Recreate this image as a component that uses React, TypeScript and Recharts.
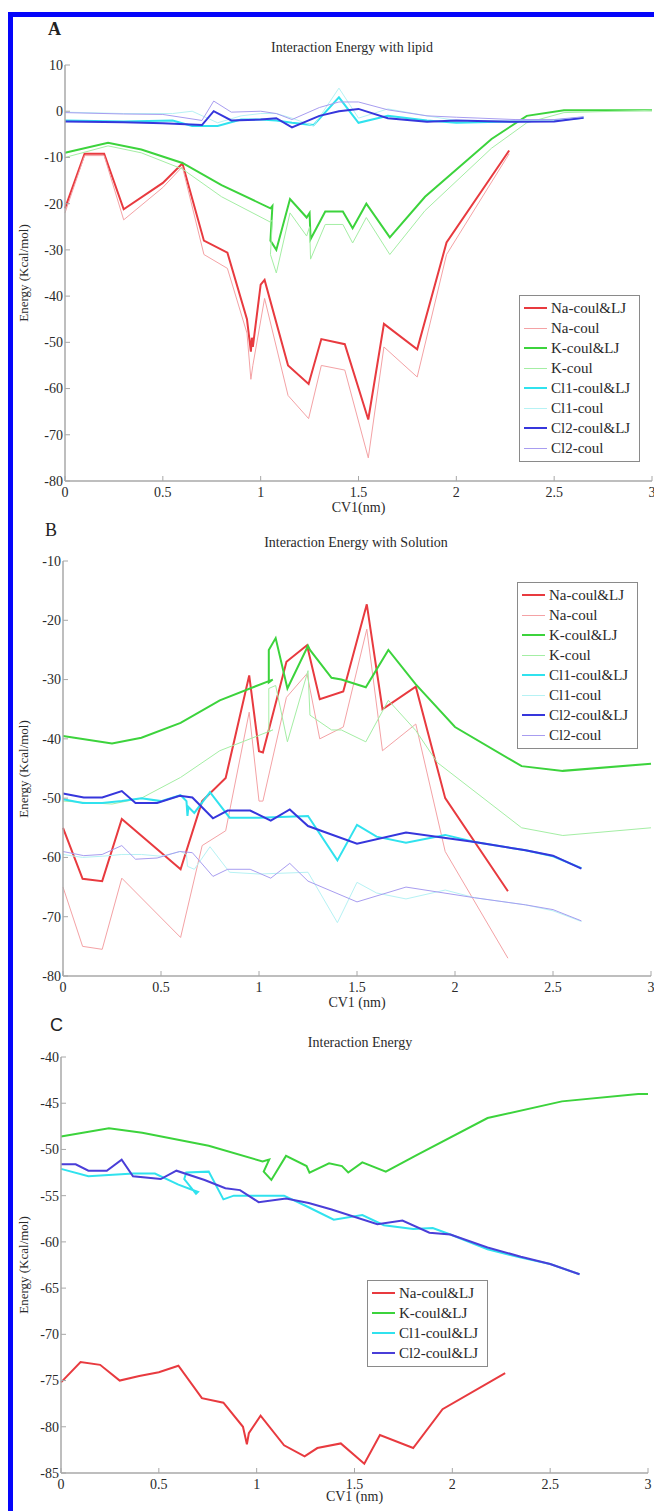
import { LineChart, Line, XAxis, YAxis } from "recharts";

type Pt = [number, number];

// ---- A: interaction energy with lipid ----
const lipidNaTotal: Pt[] = [
  [0, -21], [0.1, -9.2], [0.2, -9.2], [0.3, -21.2], [0.5, -15.5], [0.6, -11.3],
  [0.71, -28], [0.83, -30.6], [0.93, -45], [0.95, -52], [0.955, -49], [0.96, -51],
  [1.0, -37.5], [1.02, -36.5], [1.14, -55], [1.245, -59], [1.31, -49.3], [1.43, -50.4],
  [1.55, -66.7], [1.63, -46], [1.8, -51.5], [1.95, -28.4], [2.27, -8.5],
];
const lipidNaCoul: Pt[] = [
  [0, -22], [0.1, -9.6], [0.2, -9.6], [0.3, -23.5], [0.5, -16.5], [0.6, -12],
  [0.71, -31], [0.83, -34], [0.93, -48], [0.95, -58], [0.96, -55], [1.02, -40.5],
  [1.14, -61.5], [1.245, -66.5], [1.31, -55], [1.43, -56], [1.55, -75], [1.63, -51],
  [1.8, -57.5], [1.95, -31], [2.27, -9.2],
];
const lipidKTotal: Pt[] = [
  [0, -9], [0.22, -6.8], [0.39, -8.3], [0.6, -11.2], [0.8, -16], [1.05, -21], [1.06, -20.5],
  [1.05, -28], [1.08, -30], [1.15, -19], [1.235, -23], [1.25, -22], [1.255, -27.7],
  [1.33, -21.7], [1.42, -21.7], [1.47, -25.3], [1.54, -20], [1.66, -27.3], [1.84, -18.5],
  [2.18, -6], [2.36, -1], [2.55, 0.2], [3, 0.2],
];
const lipidKCoul: Pt[] = [
  [0, -10], [0.22, -7.5], [0.39, -9], [0.6, -12.5], [0.8, -18.5], [1.05, -24], [1.06, -23.5],
  [1.05, -31], [1.08, -35], [1.15, -22], [1.235, -27], [1.25, -25], [1.255, -32],
  [1.33, -24.5], [1.42, -24.5], [1.47, -28.5], [1.54, -23], [1.66, -31], [1.84, -21.5],
  [2.18, -8], [2.36, -2.5], [2.55, -0.3], [3, 0.2],
];
const lipidCl1Total: Pt[] = [
  [0, -2], [0.3, -2.2], [0.55, -2], [0.65, -3.2], [0.78, -3.2], [0.9, -1.8], [1.0, -1.8],
  [1.08, -2], [1.16, -2.5], [1.27, -3], [1.4, 3], [1.5, -2.5], [1.65, -1], [1.85, -2],
  [2.0, -2.5], [2.3, -2.2], [2.5, -2], [2.65, -1.4],
];
const lipidCl1Coul: Pt[] = [
  [0, -0.2], [0.3, -0.5], [0.55, -0.5], [0.65, 0], [0.78, -2.5], [0.9, -1], [1.0, -0.5],
  [1.08, -0.5], [1.16, -1.5], [1.27, -3.2], [1.4, 5], [1.5, -1.5], [1.65, 0.5], [1.85, -1],
  [2.0, -2], [2.3, -2], [2.5, -2], [2.65, -1.2],
];
const lipidCl2Total: Pt[] = [
  [0, -2.2], [0.3, -2.4], [0.5, -2.6], [0.7, -3], [0.76, 0], [0.85, -2], [1.0, -1.8],
  [1.08, -1.5], [1.16, -3.5], [1.3, -1], [1.4, 0], [1.5, 0.5], [1.65, -1.5], [1.85, -2.3],
  [2.0, -2], [2.3, -2.3], [2.5, -2.2], [2.65, -1.4],
];
const lipidCl2Coul: Pt[] = [
  [0, -0.3], [0.3, -0.6], [0.5, -0.7], [0.7, -2], [0.76, 2.2], [0.85, -0.2], [1.0, 0],
  [1.08, -0.5], [1.16, -1.8], [1.3, 0.8], [1.4, 2], [1.5, 2], [1.65, 0.3], [1.85, -1],
  [2.0, -1.3], [2.3, -1.8], [2.5, -1.8], [2.65, -1.2],
];

// ---- B: interaction energy with solution ----
const solNaTotal: Pt[] = [
  [0, -55], [0.1, -63.6], [0.2, -64], [0.3, -53.5], [0.6, -62], [0.71, -50.5], [0.83, -46.6],
  [0.95, -29.3], [1.0, -42.1], [1.02, -42.3], [1.14, -27], [1.245, -24.2], [1.31, -33.3],
  [1.43, -32], [1.55, -17.3], [1.63, -35], [1.8, -31.2], [1.95, -50], [2.27, -65.7],
];
const solNaCoul: Pt[] = [
  [0, -65], [0.1, -75], [0.2, -75.5], [0.3, -63.5], [0.6, -73.5], [0.71, -58], [0.83, -55.5],
  [0.95, -35.5], [1.0, -50.5], [1.02, -50.5], [1.14, -33], [1.245, -29], [1.31, -40],
  [1.43, -38], [1.55, -21.5], [1.63, -42], [1.8, -37.5], [1.95, -59], [2.27, -77],
];
const solKTotal: Pt[] = [
  [0, -39.5], [0.25, -40.8], [0.4, -39.8], [0.6, -37.3], [0.8, -33.5], [1.07, -30], [1.05, -30.5],
  [1.05, -25], [1.085, -23], [1.145, -31.5], [1.25, -24.3], [1.26, -25], [1.37, -29.7],
  [1.42, -30], [1.545, -31.3], [1.66, -25], [1.8, -30.8], [2.0, -38], [2.34, -44.6],
  [2.55, -45.4], [3, -44.2],
];
const solKCoul: Pt[] = [
  [0, -50.5], [0.25, -51], [0.4, -50], [0.6, -46.5], [0.8, -42], [1.07, -38.5], [1.05, -38.8],
  [1.05, -31.5], [1.085, -31], [1.145, -40.5], [1.25, -28.5], [1.26, -36], [1.37, -38.5],
  [1.42, -38.5], [1.545, -40.5], [1.66, -33.5], [1.8, -38.6], [1.91, -44], [2.34, -55],
  [2.55, -56.3], [3, -55],
];
const solCl1Total: Pt[] = [
  [0, -50.2], [0.1, -50.8], [0.2, -50.8], [0.3, -50.5], [0.4, -50], [0.5, -50.5], [0.6, -49.5],
  [0.63, -50.5], [0.635, -53], [0.64, -51.5], [0.67, -52.5], [0.75, -49], [0.85, -53.3],
  [1.0, -53.3], [1.25, -53], [1.4, -60.5], [1.5, -54.5], [1.6, -56.5], [1.75, -57.5],
  [1.95, -56.2], [2.1, -57.4], [2.36, -58.8], [2.5, -59.8], [2.645, -61.8],
];
const solCl1Coul: Pt[] = [
  [0, -59.5], [0.1, -60], [0.2, -59.8], [0.3, -59.5], [0.4, -59.5], [0.5, -59.8], [0.6, -59],
  [0.63, -59.5], [0.635, -61.5], [0.67, -62], [0.75, -58.2], [0.85, -62.5], [1.0, -62.8],
  [1.25, -62.5], [1.4, -71], [1.5, -64.2], [1.6, -66], [1.75, -67], [1.95, -65.5], [2.1, -66.8],
  [2.36, -68], [2.5, -69], [2.645, -70.8],
];
const solCl2Total: Pt[] = [
  [0, -49.2], [0.106, -49.9], [0.2, -49.9], [0.3, -48.8], [0.37, -50.8], [0.48, -50.8],
  [0.595, -49.6], [0.66, -49.9], [0.765, -53.4], [0.84, -52.1], [0.955, -52.1], [1.06, -53.8],
  [1.157, -51.9], [1.25, -54.7], [1.5, -57.7], [1.75, -55.8], [2.1, -57.4], [2.36, -58.8],
  [2.5, -59.7], [2.645, -61.9],
];
const solCl2Coul: Pt[] = [
  [0, -59], [0.106, -59.7], [0.2, -59.5], [0.3, -58], [0.37, -60.3], [0.48, -60.1],
  [0.595, -59], [0.66, -59.2], [0.765, -63.2], [0.84, -62], [0.955, -62], [1.06, -63.5],
  [1.157, -61], [1.25, -64], [1.5, -67.5], [1.75, -65], [2.1, -66.8], [2.36, -68],
  [2.5, -68.8], [2.645, -70.7],
];

// ---- C: total interaction energy ----
const totNa: Pt[] = [
  [0, -75.2], [0.1, -73], [0.2, -73.3], [0.3, -75], [0.4, -74.5], [0.5, -74.1], [0.6, -73.4],
  [0.72, -76.9], [0.83, -77.4], [0.93, -80], [0.95, -81.9], [0.96, -80.7], [1.02, -78.8],
  [1.14, -82], [1.245, -83.2], [1.31, -82.3], [1.43, -81.8], [1.55, -84], [1.63, -80.9],
  [1.8, -82.3], [1.95, -78.1], [2.27, -74.2],
];
const totK: Pt[] = [
  [0, -48.6], [0.245, -47.7], [0.415, -48.2], [0.755, -49.6], [1.03, -51.3], [1.064, -51.1],
  [1.036, -52.4], [1.075, -53.3], [1.15, -50.7], [1.255, -51.8], [1.27, -52.5], [1.37, -51.5],
  [1.436, -51.8], [1.468, -52.5], [1.54, -51.4], [1.66, -52.4], [1.82, -50.6], [2.18, -46.6],
  [2.56, -44.8], [2.95, -44], [3, -44],
];
const totCl1: Pt[] = [
  [0, -52.1], [0.14, -52.9], [0.37, -52.6], [0.48, -52.6], [0.6, -53.8], [0.7, -54.6],
  [0.69, -54.8], [0.63, -53.2], [0.64, -52.5], [0.755, -52.4], [0.83, -55.4], [0.883, -55],
  [1.14, -55], [1.26, -56.2], [1.394, -57.6], [1.54, -57.1], [1.65, -58.2], [1.8, -58.6],
  [1.9, -58.5], [1.99, -59.2], [2.18, -60.8], [2.35, -61.7], [2.5, -62.4], [2.65, -63.5],
];
const totCl2: Pt[] = [
  [0, -51.6], [0.075, -51.6], [0.14, -52.3], [0.234, -52.3], [0.31, -51.1], [0.368, -52.9],
  [0.51, -53.2], [0.59, -52.3], [0.734, -53.3], [0.84, -54.2], [0.915, -54.4], [1.01, -55.7],
  [1.15, -55.3], [1.266, -55.8], [1.383, -56.5], [1.617, -58.1], [1.745, -57.7], [1.883, -59],
  [1.99, -59.2], [2.18, -60.6], [2.35, -61.6], [2.5, -62.4], [2.65, -63.5],
];

const xTicks = [0, 0.5, 1, 1.5, 2, 2.5, 3];
const lipidYTicks = [10, 0, -10, -20, -30, -40, -50, -60, -70, -80];
const solYTicks = [-10, -20, -30, -40, -50, -60, -70, -80];
const totYTicks = [-40, -45, -50, -55, -60, -65, -70, -75, -80, -85];

const SERIF = "'Liberation Serif', 'Times New Roman', serif";
const AXIS = "#a8a8a8";
const INK = "#2a2a2a";

const look = {
  naTotal: { color: "#e83a3f", width: 2 },
  naCoul: { color: "#f4a2a5", width: 1 },
  kTotal: { color: "#3cd33c", width: 2 },
  kCoul: { color: "#a4eea4", width: 1 },
  cl1Total: { color: "#30e2ee", width: 2 },
  cl1Coul: { color: "#b6f2f4", width: 1 },
  cl2Total: { color: "#3636dc", width: 2 },
  cl2Coul: { color: "#a89df0", width: 1 },
};

interface Series {
  name: string;
  points: Pt[];
  color: string;
  width: number;
}

const lipidSeries: Series[] = [
  { name: "Na-coul&LJ", points: lipidNaTotal, ...look.naTotal },
  { name: "Na-coul", points: lipidNaCoul, ...look.naCoul },
  { name: "K-coul&LJ", points: lipidKTotal, ...look.kTotal },
  { name: "K-coul", points: lipidKCoul, ...look.kCoul },
  { name: "Cl1-coul&LJ", points: lipidCl1Total, ...look.cl1Total },
  { name: "Cl1-coul", points: lipidCl1Coul, ...look.cl1Coul },
  { name: "Cl2-coul&LJ", points: lipidCl2Total, ...look.cl2Total },
  { name: "Cl2-coul", points: lipidCl2Coul, ...look.cl2Coul },
];

const solSeries: Series[] = [
  { name: "Na-coul&LJ", points: solNaTotal, ...look.naTotal },
  { name: "Na-coul", points: solNaCoul, ...look.naCoul },
  { name: "K-coul&LJ", points: solKTotal, ...look.kTotal },
  { name: "K-coul", points: solKCoul, ...look.kCoul },
  { name: "Cl1-coul&LJ", points: solCl1Total, ...look.cl1Total },
  { name: "Cl1-coul", points: solCl1Coul, ...look.cl1Coul },
  { name: "Cl2-coul&LJ", points: solCl2Total, ...look.cl2Total },
  { name: "Cl2-coul", points: solCl2Coul, ...look.cl2Coul },
];

const totSeries: Series[] = [
  { name: "Na-coul&LJ", points: totNa, ...look.naTotal },
  { name: "K-coul&LJ", points: totK, ...look.kTotal },
  { name: "Cl1-coul&LJ", points: totCl1, ...look.cl1Total },
  { name: "Cl2-coul&LJ", points: totCl2, color: "#4a3ed8", width: 2 },
];

const toRows = (pts: Pt[]) => pts.map(([x, y]) => ({ x, y }));

// matlab-style inward ticks
function BottomTick({ x, y, payload }: any) {
  return (
    <g>
      <line x1={x} y1={y} x2={x} y2={y - 5} stroke={AXIS} />
      <text x={x} y={y + 16} textAnchor="middle" fontSize={14} fontFamily={SERIF} fill={INK}>
        {payload.value}
      </text>
    </g>
  );
}
function TopTick({ x, y }: any) {
  return <line x1={x} y1={y} x2={x} y2={y + 5} stroke={AXIS} />;
}
function LeftTick({ x, y, payload }: any) {
  return (
    <g>
      <line x1={x} y1={y} x2={x + 5} y2={y} stroke={AXIS} />
      <text x={x - 2} y={y} dy="0.35em" textAnchor="end" fontSize={14} fontFamily={SERIF} fill={INK}>
        {payload.value}
      </text>
    </g>
  );
}
function RightTick({ x, y }: any) {
  return <line x1={x} y1={y} x2={x - 5} y2={y} stroke={AXIS} />;
}

interface Box {
  left: number;
  top: number;
  width: number;
}

interface PanelProps {
  letter: string;
  letterFont: string;
  letterWeight: number;
  letterAt: [number, number];
  title: string;
  titleAt: [number, number];
  xLabel: string;
  xLabelY: number;
  plot: { left: number; top: number; right: number; bottom: number };
  yDomain: [number, number];
  yTicks: number[];
  series: Series[];
  legend: Box;
}

const W = 654;
const Y_AXIS_W = 50;
const X_AXIS_H = 30;

function Panel(p: PanelProps) {
  const chartTop = p.plot.top - 10;
  const chartH = p.plot.bottom - chartTop + X_AXIS_H + 4;
  const mid = (p.plot.top + p.plot.bottom) / 2;
  return (
    <>
      <div
        style={{
          position: "absolute",
          left: p.letterAt[0],
          top: p.letterAt[1],
          transform: "translateY(-50%)",
          fontFamily: p.letterFont,
          fontWeight: p.letterWeight,
          fontSize: 18,
          color: "#222",
        }}
      >
        {p.letter}
      </div>
      <div
        style={{
          position: "absolute",
          left: p.titleAt[0],
          top: p.titleAt[1],
          transform: "translate(-50%, -50%)",
          fontFamily: SERIF,
          fontSize: 14,
          color: INK,
          whiteSpace: "nowrap",
        }}
      >
        {p.title}
      </div>
      <div
        style={{
          position: "absolute",
          left: 24,
          top: mid,
          transform: "translate(-50%, -50%) rotate(-90deg)",
          fontFamily: SERIF,
          fontSize: 13,
          color: INK,
          whiteSpace: "nowrap",
        }}
      >
        Energy (Kcal/mol)
      </div>
      <div
        style={{
          position: "absolute",
          left: (p.plot.left + p.plot.right) / 2,
          top: p.xLabelY,
          transform: "translate(-50%, -50%)",
          fontFamily: SERIF,
          fontSize: 14,
          color: INK,
          whiteSpace: "nowrap",
        }}
      >
        {p.xLabel}
      </div>
      <div style={{ position: "absolute", left: 0, top: chartTop }}>
        <LineChart
          width={W}
          height={chartH}
          margin={{
            top: p.plot.top - chartTop,
            right: W - p.plot.right,
            bottom: chartTop + chartH - p.plot.bottom - X_AXIS_H,
            left: p.plot.left - Y_AXIS_W,
          }}
        >
          <XAxis
            xAxisId="b"
            type="number"
            dataKey="x"
            domain={[0, 3]}
            ticks={xTicks}
            height={X_AXIS_H}
            tickSize={0}
            tickMargin={0}
            tickLine={false}
            axisLine={{ stroke: AXIS, strokeWidth: 1.5 }}
            tick={<BottomTick />}
            interval={0}
          />
          <XAxis
            xAxisId="t"
            orientation="top"
            type="number"
            dataKey="x"
            domain={[0, 3]}
            ticks={xTicks}
            height={0}
            tickSize={0}
            tickMargin={0}
            tickLine={false}
            axisLine={{ stroke: AXIS, strokeWidth: 1.5 }}
            tick={<TopTick />}
            interval={0}
          />
          <YAxis
            yAxisId="l"
            type="number"
            domain={p.yDomain}
            ticks={p.yTicks}
            width={Y_AXIS_W}
            tickSize={0}
            tickMargin={0}
            tickLine={false}
            axisLine={{ stroke: AXIS, strokeWidth: 1.5 }}
            tick={<LeftTick />}
            interval={0}
          />
          <YAxis
            yAxisId="r"
            orientation="right"
            type="number"
            domain={p.yDomain}
            ticks={p.yTicks}
            width={0}
            tickSize={0}
            tickMargin={0}
            tickLine={false}
            axisLine={{ stroke: AXIS, strokeWidth: 1.5 }}
            tick={<RightTick />}
            interval={0}
          />
          {p.series.map((s) => (
            <Line
              key={s.name}
              xAxisId="b"
              yAxisId="l"
              data={toRows(s.points)}
              dataKey="y"
              name={s.name}
              type="linear"
              stroke={s.color}
              strokeWidth={s.width}
              dot={false}
              activeDot={false}
              isAnimationActive={false}
            />
          ))}
        </LineChart>
      </div>
      <div
        style={{
          position: "absolute",
          left: p.legend.left,
          top: p.legend.top,
          width: p.legend.width,
          boxSizing: "border-box",
          border: "1px solid #8a8a8a",
          background: "#fff",
          padding: "2px 0 3px 4px",
        }}
      >
        {p.series.map((s) => (
          <div key={s.name} style={{ display: "flex", alignItems: "center", height: 20 }}>
            <div style={{ width: 23, height: s.width, background: s.color, marginRight: 4 }} />
            <span style={{ fontFamily: SERIF, fontSize: 15, color: INK, whiteSpace: "nowrap" }}>
              {s.name}
            </span>
          </div>
        ))}
      </div>
    </>
  );
}

export default function App() {
  return (
    <div
      style={{
        position: "absolute",
        left: 0,
        top: 0,
        width: W,
        height: 1511,
        overflow: "hidden",
        background: "#fff",
      }}
    >
      <div
        style={{
          position: "absolute",
          left: 8,
          top: 12,
          width: 720,
          height: 1600,
          border: "5px solid #0505fa",
        }}
      />
      <Panel
        letter="A"
        letterFont={SERIF}
        letterWeight={700}
        letterAt={[48, 29]}
        title="Interaction Energy with lipid"
        titleAt={[352, 48]}
        xLabel="CV1(nm)"
        xLabelY={508}
        plot={{ left: 65, top: 65, right: 652, bottom: 481 }}
        yDomain={[-80, 10]}
        yTicks={lipidYTicks}
        series={lipidSeries}
        legend={{ left: 519, top: 295, width: 121 }}
      />
      <Panel
        letter="B"
        letterFont={SERIF}
        letterWeight={400}
        letterAt={[45, 530]}
        title="Interaction Energy with Solution"
        titleAt={[356, 543]}
        xLabel="CV1 (nm)"
        xLabelY={1003}
        plot={{ left: 63, top: 561, right: 651, bottom: 976 }}
        yDomain={[-80, -10]}
        yTicks={solYTicks}
        series={solSeries}
        legend={{ left: 517, top: 582, width: 121 }}
      />
      <Panel
        letter="C"
        letterFont="'Liberation Sans', Arial, sans-serif"
        letterWeight={400}
        letterAt={[50, 1025]}
        title="Interaction Energy"
        titleAt={[360, 1043]}
        xLabel="CV1 (nm)"
        xLabelY={1497}
        plot={{ left: 61, top: 1057, right: 648, bottom: 1473 }}
        yDomain={[-85, -40]}
        yTicks={totYTicks}
        series={totSeries}
        legend={{ left: 367, top: 1280, width: 121 }}
      />
    </div>
  );
}
